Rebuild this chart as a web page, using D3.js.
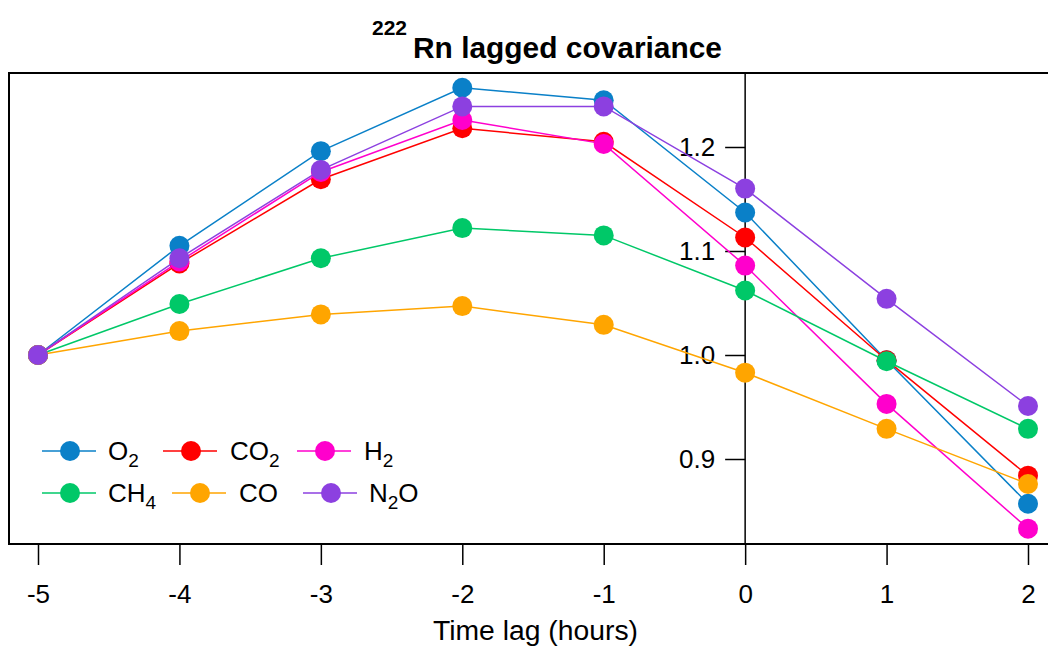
<!DOCTYPE html>
<html><head><meta charset="utf-8">
<script src="https://cdn.jsdelivr.net/npm/d3@7"></script>
<style>body{margin:0;background:#fff}svg{display:block;font-family:"Liberation Sans",Arial,sans-serif}</style>
</head><body><svg id="c" width="1048" height="648"></svg>
<script>
const lags = [-5, -4, -3, -2, -1, 0, 1, 2];
const O2  = [1.000, 1.105, 1.196, 1.257, 1.245, 1.137, 0.995, 0.857];
const CO2 = [1.000, 1.088, 1.169, 1.218, 1.205, 1.113, 0.995, 0.884];
const H2  = [1.000, 1.090, 1.176, 1.226, 1.203, 1.086, 0.953, 0.833];
const CH4 = [1.000, 1.049, 1.093, 1.122, 1.115, 1.062, 0.994, 0.929];
const CO  = [1.000, 1.023, 1.039, 1.047, 1.029, 0.983, 0.929, 0.876];
const N2O = [1.000, 1.093, 1.178, 1.239, 1.239, 1.160, 1.054, 0.951];
const seriesNames = ["O2", "CO2", "H2", "CH4", "CO", "N2O"];
const seriesLabels = [["O",2,""],["CO",2,""],["H",2,""],["CH",4,""],["CO","",""],["N",2,"O"]];
const colors = ["#0a80c8", "#ff0000", "#ff00cc", "#00c868", "#ffa500", "#8c40e0"];
const yTicks = [0.9, 1.0, 1.1, 1.2];
const xTicks = [-5, -4, -3, -2, -1, 0, 1, 2];
const seriesData = [O2, CO2, H2, CH4, CO, N2O];

const svg = d3.select("#c");
const pLeft = 9, pRight = 1080, pTop = 73, pBottom = 544;
const x = d3.scaleLinear().domain([-5, 2]).range([38, 1028]);
const y = d3.scaleLinear().domain([0.9, 1.2]).range([459, 147]);
const FF = "Liberation Sans, Arial, sans-serif";

// frame
svg.append("rect").attr("x", pLeft).attr("y", pTop).attr("width", pRight-pLeft).attr("height", pBottom-pTop)
  .attr("fill", "none").attr("stroke", "#000").attr("stroke-width", 2);

// x axis
const xa = svg.append("g").attr("transform", `translate(0,${pBottom})`)
  .call(d3.axisBottom(x).tickValues(xTicks).tickSize(21).tickPadding(20).tickFormat(d => String(d)));
xa.select(".domain").remove();
xa.selectAll("line").attr("stroke", "#000").attr("stroke-width", 1.5);
xa.selectAll("text").attr("font-size", 26).attr("fill", "#000").attr("font-family", FF);

// y axis at x=0
const ya = svg.append("g").attr("transform", `translate(${x(0)},0)`)
  .call(d3.axisLeft(y).tickValues(yTicks).tickSize(20).tickPadding(10).tickFormat(d3.format(".1f")));
ya.select(".domain").remove();
ya.selectAll("line").attr("stroke", "#000").attr("stroke-width", 1.5);
ya.selectAll("text").attr("font-size", 26).attr("fill", "#000").attr("font-family", FF);
svg.append("line").attr("x1", x(0)).attr("x2", x(0)).attr("y1", pTop).attr("y2", pBottom)
  .attr("stroke", "#000").attr("stroke-width", 1.5);

// series
const line = d3.line().x((d, i) => x(lags[i])).y(d => y(d));
seriesData.forEach((s, k) => {
  const g = svg.append("g");
  g.append("path").attr("d", line(s)).attr("fill", "none").attr("stroke", colors[k]).attr("stroke-width", 1.5);
  g.selectAll("circle").data(s).join("circle")
    .attr("cx", (d, i) => x(lags[i])).attr("cy", d => y(d)).attr("r", 10).attr("fill", colors[k]);
});

// legend
const legPos = [[42,451,108],[163,451,230],[297,451,364],[42,493,108],[172,493,239],[303,493,369]];
seriesLabels.forEach((lab, k) => {
  const [lx, ly, tx] = legPos[k];
  const g = svg.append("g");
  g.append("line").attr("x1", lx).attr("x2", lx+54).attr("y1", ly).attr("y2", ly).attr("stroke", colors[k]).attr("stroke-width", 1.5);
  g.append("circle").attr("cx", lx+28).attr("cy", ly).attr("r", 10).attr("fill", colors[k]);
  const t = g.append("text").attr("x", tx).attr("y", ly+9).attr("font-size", 26).attr("fill", "#000");
  t.append("tspan").text(lab[0]);
  if (lab[1] !== "") t.append("tspan").attr("font-size", 19).attr("dy", 7).text(lab[1]);
  if (lab[2] !== "") t.append("tspan").attr("dy", -7).text(lab[2]);
});

// title
svg.append("text").attr("x", 372).attr("y", 35).attr("font-size", 21).attr("font-weight", "bold").attr("fill", "#000").text("222");
svg.append("text").attr("x", 413).attr("y", 58).attr("font-size", 29).attr("font-weight", "bold").attr("fill", "#000")
  .attr("textLength", 309).attr("lengthAdjust", "spacingAndGlyphs").text("Rn lagged covariance");

// x axis title
svg.append("text").attr("x", 433).attr("y", 640).attr("font-size", 27).attr("fill", "#000")
  .attr("textLength", 205).attr("lengthAdjust", "spacingAndGlyphs").text("Time lag (hours)");
</script></body></html>
